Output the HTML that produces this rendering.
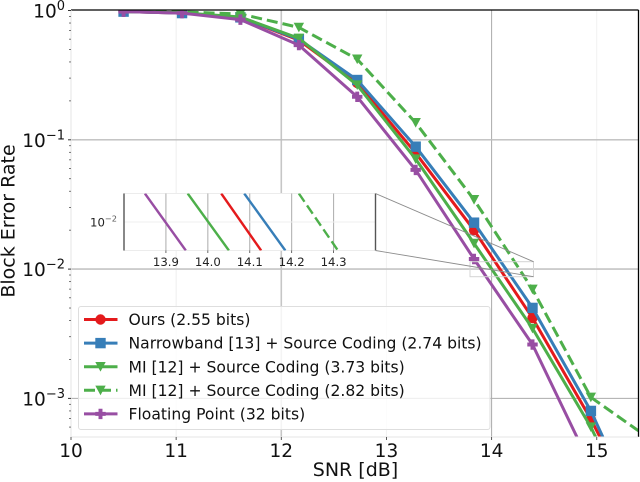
<!DOCTYPE html>
<html lang="en">
<head>
<meta charset="utf-8">
<title>Block Error Rate vs SNR</title>
<style>
html,body{margin:0;padding:0;background:#fff;width:640px;height:482px;overflow:hidden}
svg{display:block;font-family:"DejaVu Sans","Liberation Sans",sans-serif;filter:blur(0.35px)}
</style>
</head>
<body>
<svg id="chart" width="640" height="482" viewBox="0 0 640 482" xmlns="http://www.w3.org/2000/svg">
<defs>
<clipPath id="main-clip"><rect x="71" y="10" width="567.5" height="427"/></clipPath>
<clipPath id="inset-clip"><rect x="124" y="193.5" width="251.5" height="57"/></clipPath>
</defs>
</svg>
<script>
const snrPoints = [10.5, 11.056, 11.611, 12.167, 12.722, 13.278, 13.833, 14.389, 14.944, 15.5];
const oursBler = [0.98, 0.955, 0.88, 0.59, 0.275, 0.079, 0.02, 0.00419, 0.00069, 0.00009];
const narrowbandBler = [0.98, 0.955, 0.885, 0.6, 0.29, 0.0885, 0.02286, 0.00501, 0.0008, 0.000083];
const miSolidBler = [0.98, 0.96, 0.89, 0.61, 0.265, 0.071, 0.0158, 0.00348, 0.0006, 0.00007];
const miDashedBler = [0.985, 0.975, 0.94, 0.74, 0.42, 0.1355, 0.0344, 0.00698, 0.00102, 0.00049];
const floatBler = [0.98, 0.955, 0.85, 0.54, 0.215, 0.0585, 0.01197, 0.00261, 0.0003, 0.00004];
const seriesNames = ["Ours (2.55 bits)", "Narrowband [13] + Source Coding (2.74 bits)", "MI [12] + Source Coding (3.73 bits)", "MI [12] + Source Coding (2.82 bits)", "Floating Point (32 bits)"];
const xTicks = [10, 11, 12, 13, 14, 15];
const yExponents = [0, -1, -2, -3];
const insetXTicks = [13.9, 14.0, 14.1, 14.2, 14.3];

const NS = "http://www.w3.org/2000/svg";
const svg = document.getElementById("chart");
const X0 = 71, XPX = 105.15, Y0 = 10.5, YPX = 129.3;
const xScale = v => X0 + (v - 10) * XPX;
const yScale = v => Y0 - Math.log10(v) * YPX;
const IX0 = 124, IXPX = 419.2, IY0 = 222, IYPX = 491;
const insetX = v => IX0 + (v - 13.8) * IXPX;
const insetY = v => IY0 - (Math.log10(v) + 2) * IYPX;
const MAIN_BOX = [71, 638.5, 10, 437];
const INSET_BOX = [124, 375.5, 193.5, 250.5];

function el(tag, attrs, parent) {
  const n = document.createElementNS(NS, tag);
  for (const k in attrs) n.setAttribute(k, attrs[k]);
  (parent || svg).appendChild(n);
  return n;
}
function clipSegment(a, b, box) {
  let t0 = 0, t1 = 1;
  const dx = b[0] - a[0], dy = b[1] - a[1];
  const tests = [[-dx, a[0] - box[0]], [dx, box[1] - a[0]], [-dy, a[1] - box[2]], [dy, box[3] - a[1]]];
  for (const t of tests) {
    if (t[0] === 0) { if (t[1] < 0) return null; continue; }
    const r = t[1] / t[0];
    if (t[0] < 0) { if (r > t1) return null; if (r > t0) t0 = r; }
    else { if (r < t0) return null; if (r < t1) t1 = r; }
  }
  return [[a[0] + t0 * dx, a[1] + t0 * dy], [a[0] + t1 * dx, a[1] + t1 * dy]];
}
function clippedPoints(pts, box) {
  const out = [];
  for (let i = 0; i + 1 < pts.length; i++) {
    const s = clipSegment(pts[i], pts[i + 1], box);
    if (!s) continue;
    if (!out.length) out.push(s[0]);
    out.push(s[1]);
  }
  return out;
}
function marker(kind, cx, cy, color, parent) {
  const s = 5.2;
  let m;
  if (kind === "circle") {
    m = el("circle", {cx: cx, cy: cy, r: s, fill: color}, parent);
  } else if (kind === "square") {
    m = el("rect", {x: cx - s, y: cy - s, width: 2 * s, height: 2 * s, fill: color}, parent);
  } else if (kind === "triangle") {
    m = el("polygon", {points: [[cx - s, cy - s * 0.9], [cx + s, cy - s * 0.9], [cx, cy + s * 0.95]].map(p => p.join(",")).join(" "), fill: color}, parent);
  } else {
    const a = s, b = s * 0.38;
    const offsets = [[-b,-a],[b,-a],[b,-b],[a,-b],[a,b],[b,b],[b,a],[-b,a],[-b,b],[-a,b],[-a,-b],[-b,-b]];
    m = el("polygon", {points: offsets.map(p => (cx + p[0]) + "," + (cy + p[1])).join(" "), fill: color}, parent);
  }
  return m;
}

const seriesValues = [oursBler, narrowbandBler, miSolidBler, miDashedBler, floatBler];
const seriesColors = ["#e41a1c", "#377eb8", "#4daf4a", "#4daf4a", "#984ea3"];
const seriesMarkers = ["circle", "square", "triangle", "triangle", "plus"];
const seriesDash = ["", "", "", "11 5", ""];
const seriesKeys = ["ours", "narrowband", "mi-solid", "mi-dashed", "floating-point"];

/* grid */
const gridGroup = el("g", {});


const xGridStyle = {10: ["#eeeeee", 1], 11: ["#eeeeee", 1], 12: ["#c6c6c6", 1.6], 13: ["#f1f1f1", 1], 14: ["#ababab", 1], 15: ["#f1f1f1", 1]};
xTicks.forEach(t => {
  const g = el("line", {x1: xScale(t), x2: xScale(t), y1: 10, y2: 437, stroke: xGridStyle[t][0], "stroke-width": xGridStyle[t][1]}, gridGroup);
  
  
});
const yGridStyle = {0: ["#000", 0], "-1": ["#bdbdbd", 1.4], "-2": ["#c4c4c4", 1.6], "-3": ["#ababab", 1]};
yExponents.forEach(e => {
  const g = el("line", {x1: 71, x2: 638.5, y1: yScale(Math.pow(10, e)), y2: yScale(Math.pow(10, e)), stroke: yGridStyle[e][0], "stroke-width": yGridStyle[e][1]}, gridGroup);
  
  
});

/* series */
function drawSeries(sx, sy, box, clipId, withMarkers, width, scope) {
  seriesValues.forEach((vals, i) => {
    const g = el("g", {"clip-path": "url(#" + clipId + ")"});
    
    
    const raw = snrPoints.map((x, k) => [sx(x), sy(vals[k])]);
    const pts = clippedPoints(raw, box).map(p => p[0].toFixed(2) + "," + p[1].toFixed(2)).join(" ");
    const line = el("polyline", {points: pts, fill: "none", stroke: seriesColors[i], "stroke-width": width, "stroke-linejoin": "round"}, g);
    if (seriesDash[i]) line.setAttribute("stroke-dasharray", withMarkers ? seriesDash[i] : "10 4.5");
    
    
    if (withMarkers) {
      raw.forEach(p => {
        if (p[0] > box[1] + 5 || p[1] > box[3] + 5) return;
        const m = marker(seriesMarkers[i], p[0], p[1], seriesColors[i], g);
        
        
      });
    }
  });
}
drawSeries(xScale, yScale, MAIN_BOX, "main-clip", true, 3, "main");

/* spines */
const spineSpecs = [
  ["top-spine", 71, 10, 638.5, 10, "#000", 1.3],
  ["right-spine", 638.5, 10, 638.5, 437, "#000", 1.3],
  ["left-spine", 71, 10, 71, 437, "#e6e6e6", 1],
  ["bottom-spine", 71, 437, 638.5, 437, "#e6e6e6", 1]
];
spineSpecs.forEach(s => {
  const l = el("line", {x1: s[1], y1: s[2], x2: s[3], y2: s[4], stroke: s[5], "stroke-width": s[6]});
  
  
});

/* y ticks and labels */
yExponents.forEach(e => {
  const y = yScale(Math.pow(10, e));
  const tk = el("line", {x1: 68, x2: 71, y1: y, y2: y, stroke: "#333", "stroke-width": 1});
  
  
  const t = el("text", {x: 65, y: y + 7, "text-anchor": "end", "font-size": 18.5, fill: "#111"});
  
  
  const base = el("tspan", {}, t);
  base.textContent = "10";
  const sup = el("tspan", {dy: -7.5, "font-size": 13}, t);
  sup.textContent = e === 0 ? "0" : "\u2212" + Math.abs(e);
});
[0, -1, -2, -3, -4].forEach(e => {
  [2, 3, 4, 5, 6, 7, 8, 9].forEach(m => {
    const v = m * Math.pow(10, e - 1);
    const y = yScale(v);
    if (y > 437 || y < 10) return;
    const tk = el("line", {x1: 69, x2: 71, y1: y, y2: y, stroke: "#555", "stroke-width": 0.8});
    
    
  });
});

/* x ticks and labels */
xTicks.forEach(v => {
  const x = xScale(v);
  const tk = el("line", {x1: x, x2: x, y1: 437, y2: 440, stroke: "#444", "stroke-width": 0.9});
  
  
  const t = el("text", {x: x, y: 457, "text-anchor": "middle", "font-size": 18.5, fill: "#111"});
  
  
  t.textContent = v;
});

/* axis titles */
const xTitle = el("text", {x: 355.5, y: 476, "text-anchor": "middle", "font-size": 19, fill: "#111"});


xTitle.textContent = "SNR [dB]";
const yTitle = el("text", {transform: "translate(14.5,221) rotate(-90)", "text-anchor": "middle", "font-size": 19, fill: "#111"});


yTitle.textContent = "Block Error Rate";

/* zoom indicator */
const indicator = el("rect", {x: 470, y: 261.7, width: 63.5, height: 15, fill: "none", stroke: "#d4d4d4", "stroke-width": 1});


const connectorSpecs = [[375.5, 193.5, 533.5, 261.7], [375.5, 250.5, 533.5, 276.7]];
connectorSpecs.forEach(c => {
  const l = el("line", {x1: c[0], y1: c[1], x2: c[2], y2: c[3], stroke: "#8c8c8c", "stroke-width": 0.9});
  
  
});

/* inset */
const insetBg = el("rect", {x: 124, y: 193.5, width: 251.5, height: 57, fill: "#fff", stroke: "#ececec", "stroke-width": 1});


insetXTicks.forEach(v => {
  const x = insetX(v);
  const g = el("line", {x1: x, x2: x, y1: 193.5, y2: 250.5, stroke: "#ababab", "stroke-width": 1});
  
  
  const tk = el("line", {x1: x, x2: x, y1: 250.5, y2: 253, stroke: "#444", "stroke-width": 0.8});
  
  
  const t = el("text", {x: x, y: 266, "text-anchor": "middle", "font-size": 11.7, fill: "#222"});
  
  
  t.textContent = v.toFixed(1);
});
const insetH = el("line", {x1: 124, x2: 375.5, y1: insetY(0.01), y2: insetY(0.01), stroke: "#efefef", "stroke-width": 1});


drawSeries(insetX, insetY, INSET_BOX, "inset-clip", false, 2.4, "inset");
[124, 375.5].forEach(x => {
  const l = el("line", {x1: x, x2: x, y1: 193.5, y2: 250.5, stroke: "#555", "stroke-width": 1.4});
  
  
});
const insetYLabel = el("text", {x: 117, y: 226.5, "text-anchor": "end", "font-size": 11.7, fill: "#222"});


const insetBase = el("tspan", {}, insetYLabel);
insetBase.textContent = "10";
const insetSup = el("tspan", {dy: -5, "font-size": 8.2, fill: "#555"}, insetYLabel);
insetSup.textContent = "\u22122";

/* legend */
const legend = el("g", {});


const legendBox = el("rect", {x: 78.5, y: 306.5, width: 411.5, height: 123, rx: 2.5, fill: "#fff", "fill-opacity": 0.8, stroke: "#dedede", "stroke-width": 1}, legend);


seriesNames.forEach((name, i) => {
  const y = 319.5 + i * 23.6;
  const row = el("g", {}, legend);
  
  
  const ln = el("line", {x1: 84, x2: 117.5, y1: y, y2: y, stroke: seriesColors[i], "stroke-width": 3}, row);
  if (seriesDash[i]) ln.setAttribute("stroke-dasharray", "11 5");
  
  
  const m = marker(seriesMarkers[i], 100.5, y, seriesColors[i], row);
  
  
  const t = el("text", {x: 128.5, y: y + 5.6, "font-size": 15.6, fill: "#111"}, row);
  
  
  t.textContent = name;
});
</script>
</body>
</html>
